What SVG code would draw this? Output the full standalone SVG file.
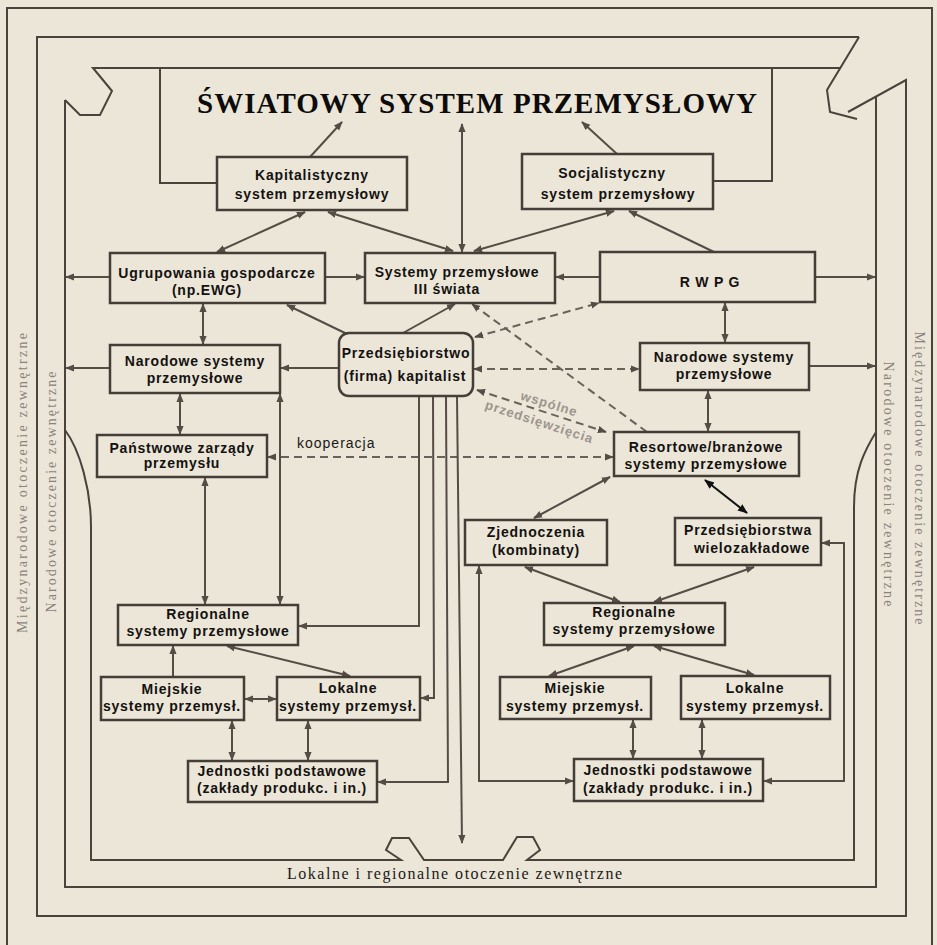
<svg xmlns="http://www.w3.org/2000/svg" width="937" height="945" viewBox="0 0 937 945">
<style>
.f{fill:none;stroke:#4a423c;stroke-width:2}
.b{fill:none;stroke:#453d37;stroke-width:2.5}
.c{fill:none;stroke:#554c45;stroke-width:2}
.d{fill:none;stroke:#6a625a;stroke-width:2;stroke-dasharray:8 5}
.t{font-family:"Liberation Sans",Arial,sans-serif;font-weight:bold;font-size:14px;fill:#141210;text-anchor:middle;letter-spacing:0.8px}
.s{font-family:"Liberation Serif","Times New Roman",serif;font-size:14px;fill:#8a837b}
.g{font-family:"Liberation Sans",Arial,sans-serif;font-weight:bold;font-size:13px;fill:#9c958d;letter-spacing:1px}
</style>
<defs>
<marker id="a" viewBox="0 0 10 10" refX="9" refY="5" markerWidth="9" markerHeight="9" markerUnits="userSpaceOnUse" orient="auto-start-reverse"><path d="M0,1 L10,5 L0,9 z" fill="#554c45"/></marker>
<marker id="k" viewBox="0 0 10 10" refX="9" refY="5" markerWidth="10" markerHeight="10" markerUnits="userSpaceOnUse" orient="auto-start-reverse"><path d="M0,1 L10,5 L0,9 z" fill="#111"/></marker>
</defs>
<rect width="937" height="945" fill="#ebe6d8"/>

<g id="frames">
<path class="f" d="M7,945 L7,8 L932,8 L932,945"/>
<path class="f" d="M859,37 L37,37 L37,916 L906,916 L906,80 L848,112"/>
<path class="f" d="M859,37 L827,90 L830,112 L857,119"/>
<path class="f" d="M65,100 L65,887 L876,887 L876,97"/>
<path class="f" d="M65,430 C80,450 91,490 91,527 L91,860 L401,860 L386,850 L392,838 L409,838 L424,860 L503,860 L517,837 L533,837 L540,850 L527,860 L854,860 L854,507 C854,470 865,450 876,432"/>
<path class="f" d="M217,183 L160,183 L160,68 L840,68"/>
<path class="f" d="M713,181 L772,181 L772,68"/>
<path class="f" d="M160,68 L93,68 L112,91 L100,115 L80,115 L65,100"/>
<text class="s" transform="translate(27,483) rotate(-90)" text-anchor="middle" textLength="300" lengthAdjust="spacing">Międzynarodowe otoczenie zewnętrzne</text>
<text class="s" transform="translate(56,492) rotate(-90)" text-anchor="middle" textLength="241" lengthAdjust="spacing">Narodowe otoczenie zewnętrzne</text>
<text class="s" transform="translate(915,478) rotate(90)" text-anchor="middle" textLength="293" lengthAdjust="spacing">Międzynarodowe otoczenie zewnętrzne</text>
<text class="s" transform="translate(884,484) rotate(90)" text-anchor="middle" textLength="245" lengthAdjust="spacing">Narodowe otoczenie zewnętrzne</text>
<text x="287" y="879" font-family="Liberation Serif,Times New Roman,serif" font-size="16" fill="#1a1816" textLength="335" lengthAdjust="spacing">Lokalne i regionalne otoczenie zewnętrzne</text>
</g>

<g id="title">
<text x="197" y="113" font-family="Liberation Serif,Times New Roman,serif" font-weight="bold" font-size="29" fill="#0d0c0b" textLength="560" lengthAdjust="spacing">ŚWIATOWY SYSTEM PRZEMYSŁOWY</text>
</g>

<g id="connectors">
<line class="c" x1="310" y1="157" x2="342" y2="122" marker-end="url(#a)"/>
<line class="c" x1="617" y1="154" x2="582" y2="122" marker-end="url(#a)"/>
<line class="c" x1="462" y1="252" x2="462" y2="124" marker-start="url(#a)" marker-end="url(#a)"/>
<line class="c" x1="305" y1="212" x2="217" y2="252" marker-start="url(#a)" marker-end="url(#a)"/>
<line class="c" x1="328" y1="212" x2="453" y2="251" marker-start="url(#a)" marker-end="url(#a)"/>
<line class="c" x1="614" y1="211" x2="474" y2="251" marker-start="url(#a)" marker-end="url(#a)"/>
<line class="c" x1="714" y1="252" x2="629" y2="211" marker-end="url(#a)"/>
<line class="c" x1="325" y1="277" x2="364" y2="277" marker-end="url(#a)"/>
<line class="c" x1="600" y1="277" x2="556" y2="277" marker-end="url(#a)"/>
<line class="c" x1="110" y1="277" x2="66" y2="277" marker-end="url(#a)"/>
<line class="c" x1="815" y1="277" x2="875" y2="277" marker-end="url(#a)"/>
<line class="c" x1="203" y1="304" x2="203" y2="344" marker-start="url(#a)" marker-end="url(#a)"/>
<line class="c" x1="347" y1="334" x2="287" y2="305" marker-end="url(#a)"/>
<line class="c" x1="403" y1="333" x2="455" y2="304" marker-end="url(#a)"/>
<line class="c" x1="339" y1="368" x2="281" y2="368" marker-end="url(#a)"/>
<line class="c" x1="110" y1="368" x2="66" y2="368" marker-end="url(#a)"/>
<line class="c" x1="180" y1="394" x2="180" y2="434" marker-start="url(#a)" marker-end="url(#a)"/>
<line class="c" x1="205" y1="478" x2="205" y2="604" marker-start="url(#a)" marker-end="url(#a)"/>
<line class="c" x1="280" y1="394" x2="280" y2="604" marker-start="url(#a)" marker-end="url(#a)"/>
<line class="d" x1="268" y1="457" x2="613" y2="457" marker-start="url(#a)" marker-end="url(#a)"/>
<line class="d" x1="474" y1="369" x2="639" y2="369" marker-start="url(#a)" marker-end="url(#a)"/>
<line class="d" x1="475" y1="337" x2="599" y2="303" marker-start="url(#a)" marker-end="url(#a)"/>
<line class="d" x1="647" y1="432" x2="472" y2="304" marker-end="url(#a)"/>
<line class="d" x1="477" y1="390" x2="606" y2="432" marker-start="url(#a)" marker-end="url(#a)"/>
<line class="c" x1="725" y1="303" x2="725" y2="342" marker-start="url(#a)" marker-end="url(#a)"/>
<line class="c" x1="809" y1="366" x2="875" y2="366" marker-end="url(#a)"/>
<line class="c" x1="708" y1="391" x2="708" y2="431" marker-start="url(#a)" marker-end="url(#a)"/>
<line x1="705" y1="480" x2="747" y2="513" stroke="#111" stroke-width="2" marker-start="url(#k)" marker-end="url(#k)"/>
<line class="c" x1="610" y1="477" x2="534" y2="518" marker-start="url(#a)" marker-end="url(#a)"/>
<line class="c" x1="525" y1="567" x2="620" y2="602" marker-start="url(#a)" marker-end="url(#a)"/>
<line class="c" x1="754" y1="567" x2="654" y2="602" marker-start="url(#a)" marker-end="url(#a)"/>
<line class="c" x1="634" y1="646" x2="549" y2="676" marker-start="url(#a)" marker-end="url(#a)"/>
<line class="c" x1="654" y1="646" x2="754" y2="675" marker-start="url(#a)" marker-end="url(#a)"/>
<line class="c" x1="633" y1="720" x2="633" y2="758" marker-start="url(#a)" marker-end="url(#a)"/>
<line class="c" x1="702" y1="720" x2="702" y2="758" marker-start="url(#a)" marker-end="url(#a)"/>
<path class="c" d="M479,566 L479,781 L573,781" marker-start="url(#a)" marker-end="url(#a)"/>
<path class="c" d="M822,543 L844,543 L844,781 L764,781" marker-start="url(#a)" marker-end="url(#a)"/>
<line class="c" x1="227" y1="646" x2="350" y2="676" marker-start="url(#a)" marker-end="url(#a)"/>
<line class="c" x1="173" y1="677" x2="173" y2="646" marker-end="url(#a)"/>
<line class="c" x1="245" y1="699" x2="276" y2="699" marker-start="url(#a)" marker-end="url(#a)"/>
<line class="c" x1="232" y1="721" x2="232" y2="760" marker-start="url(#a)" marker-end="url(#a)"/>
<line class="c" x1="308" y1="721" x2="308" y2="760" marker-start="url(#a)" marker-end="url(#a)"/>
<path class="c" d="M419,396 L419,626 L299,626" marker-end="url(#a)"/>
<path class="c" d="M433,396 L434,698 L421,698" marker-end="url(#a)"/>
<path class="c" d="M446,396 L448,782 L378,782" marker-end="url(#a)"/>
<path class="c" d="M457,396 L462,843" marker-end="url(#a)"/>
<text x="297" y="448" font-family="Liberation Sans,Arial,sans-serif" font-size="14" fill="#1a1816" letter-spacing="1">kooperacja</text>
<text class="g" transform="translate(548,408) rotate(17)" text-anchor="middle">wspólne</text>
<text class="g" transform="translate(538,426) rotate(18)" text-anchor="middle">przedsięwzięcia</text>
</g>

<g id="n1"><rect class="b" x="217" y="157" width="190" height="53"/><text class="t" x="312" y="180">Kapitalistyczny</text><text class="t" x="312" y="199">system przemysłowy</text></g>
<g id="n2"><rect class="b" x="522" y="154" width="191" height="55"/><text class="t" x="612" y="178">Socjalistyczny</text><text class="t" x="618" y="199">system przemysłowy</text></g>
<g id="n3"><rect class="b" x="110" y="253" width="215" height="50"/><text class="t" x="217" y="278">Ugrupowania gospodarcze</text><text class="t" x="207" y="295">(np.EWG)</text></g>
<g id="n4"><rect class="b" x="365" y="253" width="190" height="50"/><text class="t" x="457" y="277">Systemy przemysłowe</text><text class="t" x="447" y="294">III świata</text></g>
<g id="n5"><rect class="b" x="600" y="252" width="215" height="50"/><text class="t" x="710" y="287" letter-spacing="3">R W P G</text></g>
<g id="n6"><rect class="b" x="110" y="345" width="170" height="48"/><text class="t" x="195" y="366">Narodowe systemy</text><text class="t" x="195" y="383">przemysłowe</text></g>
<g id="n7"><rect class="b" x="339" y="333" width="134" height="63" rx="10" stroke-width="2.8"/><text class="t" x="406" y="358" letter-spacing="0.3">Przedsiębiorstwo</text><text class="t" x="405" y="381" letter-spacing="0.5">(firma) kapitalist</text></g>
<g id="n8"><rect class="b" x="640" y="343" width="169" height="47"/><text class="t" x="724" y="362">Narodowe systemy</text><text class="t" x="724" y="379">przemysłowe</text></g>
<g id="n9"><rect class="b" x="97" y="435" width="170" height="42"/><text class="t" x="182" y="453">Państwowe zarządy</text><text class="t" x="182" y="468">przemysłu</text></g>
<g id="n10"><rect class="b" x="614" y="432" width="185" height="44"/><text class="t" x="706" y="452">Resortowe/branżowe</text><text class="t" x="706" y="469">systemy przemysłowe</text></g>
<g id="n11"><rect class="b" x="465" y="520" width="142" height="45"/><text class="t" x="536" y="537">Zjednoczenia</text><text class="t" x="536" y="555">(kombinaty)</text></g>
<g id="n12"><rect class="b" x="675" y="518" width="146" height="47"/><text class="t" x="748" y="535">Przedsiębiorstwa</text><text class="t" x="752" y="553">wielozakładowe</text></g>
<g id="n13"><rect class="b" x="118" y="605" width="180" height="40"/><text class="t" x="208" y="619">Regionalne</text><text class="t" x="208" y="636">systemy przemysłowe</text></g>
<g id="n14"><rect class="b" x="544" y="603" width="181" height="42"/><text class="t" x="634" y="617">Regionalne</text><text class="t" x="634" y="634">systemy przemysłowe</text></g>
<g id="n15"><rect class="b" x="101" y="677" width="143" height="43"/><text class="t" x="172" y="694">Miejskie</text><text class="t" x="172" y="711" letter-spacing="0.2">systemy przemysł.</text></g>
<g id="n16"><rect class="b" x="277" y="677" width="143" height="43"/><text class="t" x="348" y="693">Lokalne</text><text class="t" x="348" y="711" letter-spacing="0.2">systemy przemysł.</text></g>
<g id="n17"><rect class="b" x="188" y="761" width="189" height="41"/><text class="t" x="282" y="776">Jednostki podstawowe</text><text class="t" x="282" y="793">(zakłady produkc. i in.)</text></g>
<g id="n18"><rect class="b" x="500" y="677" width="151" height="42"/><text class="t" x="575" y="693">Miejskie</text><text class="t" x="575" y="711">systemy przemysł.</text></g>
<g id="n19"><rect class="b" x="681" y="676" width="149" height="43"/><text class="t" x="755" y="693">Lokalne</text><text class="t" x="755" y="711">systemy przemysł.</text></g>
<g id="n20"><rect class="b" x="574" y="759" width="189" height="42"/><text class="t" x="668" y="775">Jednostki podstawowe</text><text class="t" x="668" y="793">(zakłady produkc. i in.)</text></g>
</svg>
